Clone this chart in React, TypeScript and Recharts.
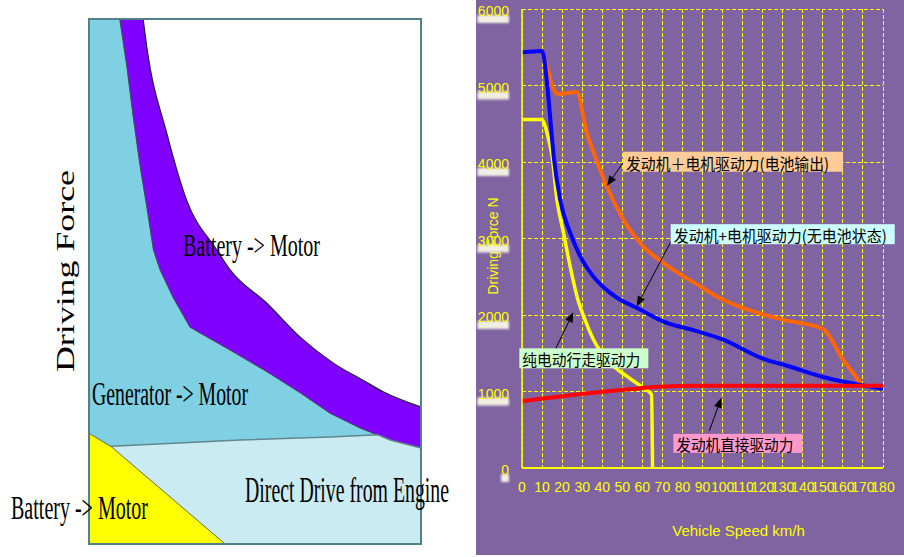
import React from 'react';
import {
  ComposedChart, Area, LineChart, Line, XAxis, YAxis, CartesianGrid, ReferenceArea, ReferenceDot,
} from 'recharts';

// ---- left diagram: relative speed / force, 0..100 on both axes ----
const purpleTopX = [0, 10, 16.3, 17.4, 23.4, 29.4, 38.5, 42.5, 53.5, 63.6, 73.5, 82.5, 88.6, 100];
const purpleTopY = [170, 125, 100, 94.7, 78.3, 65.5, 56, 52.2, 45.9, 39.4, 34.5, 31.2, 29, 26.1];
const generatorTopX = [0, 9.3, 11.4, 13.3, 15.4, 17.4, 19.4, 21.4, 25.3, 30.4, 43.4, 53.6, 63.6, 72.6, 81.6, 90.7, 100];
const generatorTopY = [130, 99.8, 90.9, 81.4, 71.9, 64.2, 56, 52.2, 47, 41.3, 36.6, 32.8, 28.8, 24.9, 22.1, 19.8, 18.3];
const engineTopX = [0, 6.8, 45.5, 72.6, 87, 90.7, 100];
const engineTopY = [17, 18.6, 19.8, 20.4, 20.8, 19.8, 18.3];
const batteryTopX = [0, 6.8, 41, 100];
const batteryTopY = [21.1, 18.5, 0, 0];

// ---- right chart: driving force (N) vs vehicle speed (km/h) ----
const speedTicks = [0, 10, 20, 30, 40, 50, 60, 70, 80, 90, 100, 110, 120, 130, 140, 150, 160, 170, 180];
const forceTicks = [0, 1000, 2000, 3000, 4000, 5000, 6000];

const withBatteryX = [10, 10.7, 12.4, 15.8, 18.2, 27.3, 32.3, 36.4, 42.2, 50.5, 60.4, 70.4, 86, 100, 110, 130, 150, 160, 169];
const withBatteryY = [5450, 5380, 5250, 4946, 4890, 4915, 4380, 4074, 3682, 3247, 2898, 2681, 2420, 2202, 2093, 1940, 1819, 1418, 1110];
const noBatteryX = [0, 10, 12.5, 14, 15.8, 19, 24, 29, 35.5, 44, 49, 55.5, 60.5, 70, 87, 100, 120, 133, 150, 170, 180];
const noBatteryY = [5430, 5450, 5030, 4600, 4074, 3510, 3075, 2770, 2505, 2290, 2200, 2115, 2050, 1920, 1790, 1680, 1430, 1330, 1190, 1080, 1035];
const evOnlyX = [0, 10, 11.6, 13.3, 15, 17.4, 20.7, 24, 28.1, 31.4, 35.6, 43.9, 52.2, 60.4, 64.6, 65.1];
const evOnlyY = [4554, 4554, 4466, 4292, 4074, 3508, 3073, 2637, 2180, 1940, 1679, 1375, 1200, 1048, 960, 0];
const engineOnlyX = [0, 27.3, 52.2, 68.7, 88.5, 120, 150, 180];
const engineOnlyY = [873, 960, 1026, 1061, 1075, 1075, 1075, 1075];

const noteTexts = ['发动机＋电机驱动力(电池输出)', '发动机+电机驱动力(无电池状态)', '纯电动行走驱动力', '发动机直接驱动力'];
const noteSpeed = [42.4, 57.2, 25.6, 99.4];
const noteForce = [3690, 2115, 2035, 917];

const noteLayout = [
  { bx: 16, by: -34, w: 220, h: 20, lx: 16, ly: -23, tx: 3, len: 203, fill: '#FFCC99' },
  { bx: 34, by: -82, w: 224, h: 20, lx: 35, ly: -66, tx: 3, len: 213, fill: '#CCFFFF' },
  { bx: -54, by: 36, w: 129, h: 20, lx: -18, ly: 37, tx: 3, len: 118, fill: '#CCFFCC' },
  { bx: -48, by: 36, w: 129, h: 19, lx: -12, ly: 33, tx: 3, len: 117, fill: '#FF99CC' },
];

const PURPLE_BG = '#8064A2';
const YELLOW = '#FFFF00';
const SANS = 'Liberation Sans, Arial, sans-serif';
const CJK = '"Noto Sans CJK SC", sans-serif';
const SERIF = 'Liberation Serif, "Times New Roman", serif';

const toPoints = (xs: number[], ys: number[]) => xs.map((x, i) => ({ x, y: ys[i] }));

const ForceTick = ({ x, y, payload }: any) => {
  const label = String(payload.value);
  const w = label.length * 7.9;
  return (
    <g>
      <defs>
        <filter id="tickGlow" x="-20%" y="-50%" width="140%" height="200%">
          <feGaussianBlur stdDeviation="1.3" />
        </filter>
      </defs>
      <rect x={x - 13 - w} y={y + 6} width={w} height={8} fill="#F1EEE2" filter="url(#tickGlow)" />
      <text x={x - 13} y={y + 7} textAnchor="end" fill={YELLOW} fontSize={14} fontFamily={SANS}>
        {label}
      </text>
    </g>
  );
};

const SpeedTick = ({ x, y, payload }: any) => (
  <text x={x} y={y + 24} textAnchor="middle" fill={YELLOW} fontSize={14} fontFamily={SANS}>
    {payload.value}
  </text>
);

const Callout = ({ cx, cy, i }: any) => {
  const l = noteLayout[i];
  const sx = cx + l.lx;
  const sy = cy + l.ly;
  const dx = cx - sx;
  const dy = cy - sy;
  const d = Math.sqrt(dx * dx + dy * dy);
  const ux = dx / d;
  const uy = dy / d;
  const bx = cx - ux * 10;
  const by = cy - uy * 10;
  const head = `${cx},${cy} ${bx - uy * 4},${by + ux * 4} ${bx + uy * 4},${by - ux * 4}`;
  return (
    <g>
      <line x1={sx} y1={sy} x2={bx} y2={by} stroke="#000" strokeWidth={1} />
      <polygon points={head} fill="#000" />
      <rect x={cx + l.bx} y={cy + l.by} width={l.w} height={l.h} fill={l.fill} />
      <text
        x={cx + l.bx + l.tx}
        y={cy + l.by + l.h / 2 + 1}
        dominantBaseline="central"
        fontSize={16}
        fontFamily={CJK}
        fill="#000"
        textLength={l.len}
        lengthAdjust="spacingAndGlyphs"
      >
        {noteTexts[i]}
      </text>
    </g>
  );
};

const DriveModes = () => (
  <div style={{ position: 'relative', width: 460, height: 557 }}>
    <ComposedChart width={460} height={557} margin={{ top: 19, right: 39, bottom: 13, left: 89 }}>
      <XAxis type="number" dataKey="x" domain={[0, 100]} hide allowDataOverflow height={0} />
      <YAxis type="number" domain={[0, 100]} hide allowDataOverflow width={0} />
      <Area data={toPoints(purpleTopX, purpleTopY)} dataKey="y" type="monotone" fill="#8000FF" fillOpacity={1}
        stroke="#222" strokeWidth={1.2} dot={false} activeDot={false} isAnimationActive={false} />
      <Area data={toPoints(generatorTopX, generatorTopY)} dataKey="y" type="linear" fill="#7ED0E2" fillOpacity={1}
        stroke="#3E4E52" strokeWidth={1} dot={false} activeDot={false} isAnimationActive={false} />
      <Area data={toPoints(engineTopX, engineTopY)} dataKey="y" type="linear" fill="#CBEBF3" fillOpacity={1}
        stroke="#62878F" strokeWidth={1.5} dot={false} activeDot={false} isAnimationActive={false} />
      <Area data={toPoints(batteryTopX, batteryTopY)} dataKey="y" type="linear" fill="#FFFF00" fillOpacity={1}
        stroke="#6B6B5A" strokeWidth={1} dot={false} activeDot={false} isAnimationActive={false} />
      <ReferenceArea x1={0} x2={100} y1={0} y2={100} fill="none" stroke="#52808A" strokeWidth={2} />
    </ComposedChart>
    <svg width={460} height={557} style={{ position: 'absolute', left: 0, top: 0, pointerEvents: 'none' }}>
      <g fontFamily={SERIF} fill="#000">
        <text x={183} y={256} fontSize={31} textLength={137} lengthAdjust="spacingAndGlyphs">Battery -&gt; Motor</text>
        <text x={92} y={405} fontSize={34} textLength={156} lengthAdjust="spacingAndGlyphs">Generator -&gt; Motor</text>
        <text x={11} y={519} fontSize={34} textLength={137} lengthAdjust="spacingAndGlyphs">Battery -&gt; Motor</text>
        <text x={245} y={502} fontSize={35} textLength={204} lengthAdjust="spacingAndGlyphs">Direct Drive from Engine</text>
        <text x={65} y={271} fontSize={26} textAnchor="middle" dominantBaseline="central"
          transform="rotate(-90 65 271)" textLength={202} lengthAdjust="spacingAndGlyphs">Driving Force</text>
      </g>
    </svg>
  </div>
);

const ForceChart = () => (
  <LineChart width={428} height={555} margin={{ top: 9, right: 21, left: 0, bottom: 0 }}>
    <CartesianGrid stroke={YELLOW} strokeDasharray="4 2" strokeWidth={1} />
    <XAxis
      type="number"
      dataKey="x"
      domain={[0, 180]}
      ticks={speedTicks}
      interval={0}
      height={87}
      tickLine={false}
      tickSize={0}
      tickMargin={0}
      axisLine={{ stroke: YELLOW, strokeWidth: 2 }}
      tick={<SpeedTick />}
      label={{
        content: ({ viewBox }: any) => (
          <text x={viewBox.x + viewBox.width / 2 + 36} y={536} textAnchor="middle" fill={YELLOW}
            fontSize={15} fontFamily={SANS}>Vehicle Speed km/h</text>
        ),
      }}
    />
    <YAxis
      type="number"
      domain={[0, 6000]}
      ticks={forceTicks}
      interval={0}
      width={46}
      tickLine={false}
      tickSize={0}
      tickMargin={0}
      axisLine={{ stroke: YELLOW, strokeWidth: 1.5 }}
      tick={<ForceTick />}
      label={{
        content: () => (
          <text x={17} y={246} textAnchor="middle" dominantBaseline="central" fill={YELLOW}
            fontSize={14} fontFamily={SANS} transform="rotate(-90 17 246)">Driving Force N</text>
        ),
      }}
    />
    <Line data={toPoints(evOnlyX, evOnlyY)} dataKey="y" type="monotone" stroke="#FFFF00" strokeWidth={3.5}
      dot={false} activeDot={false} isAnimationActive={false} />
    <Line data={toPoints(withBatteryX, withBatteryY)} dataKey="y" type="monotone" stroke="#FF6600" strokeWidth={4}
      dot={false} activeDot={false} isAnimationActive={false} />
    <Line data={toPoints(noBatteryX, noBatteryY)} dataKey="y" type="monotone" stroke="#0000FF" strokeWidth={4}
      dot={false} activeDot={false} isAnimationActive={false} />
    <Line data={toPoints(engineOnlyX, engineOnlyY)} dataKey="y" type="monotone" stroke="#FF0000" strokeWidth={4}
      dot={false} activeDot={false} isAnimationActive={false} />
    {noteTexts.map((t, i) => (
      <ReferenceDot key={t} x={noteSpeed[i]} y={noteForce[i]} r={0}
        shape={(p: any) => <Callout {...p} i={i} />} />
    ))}
  </LineChart>
);

export default function App() {
  return (
    <div style={{ position: 'absolute', left: 0, top: 0, width: 904, height: 557, background: '#fff', overflow: 'hidden' }}>
      <style>{'.recharts-cartesian-grid line { shape-rendering: crispEdges; }'}</style>
      <div style={{ position: 'absolute', left: 0, top: 0 }}>
        <DriveModes />
      </div>
      <div style={{ position: 'absolute', left: 476, top: 0, width: 428, height: 555, background: PURPLE_BG }}>
        <ForceChart />
      </div>
    </div>
  );
}
